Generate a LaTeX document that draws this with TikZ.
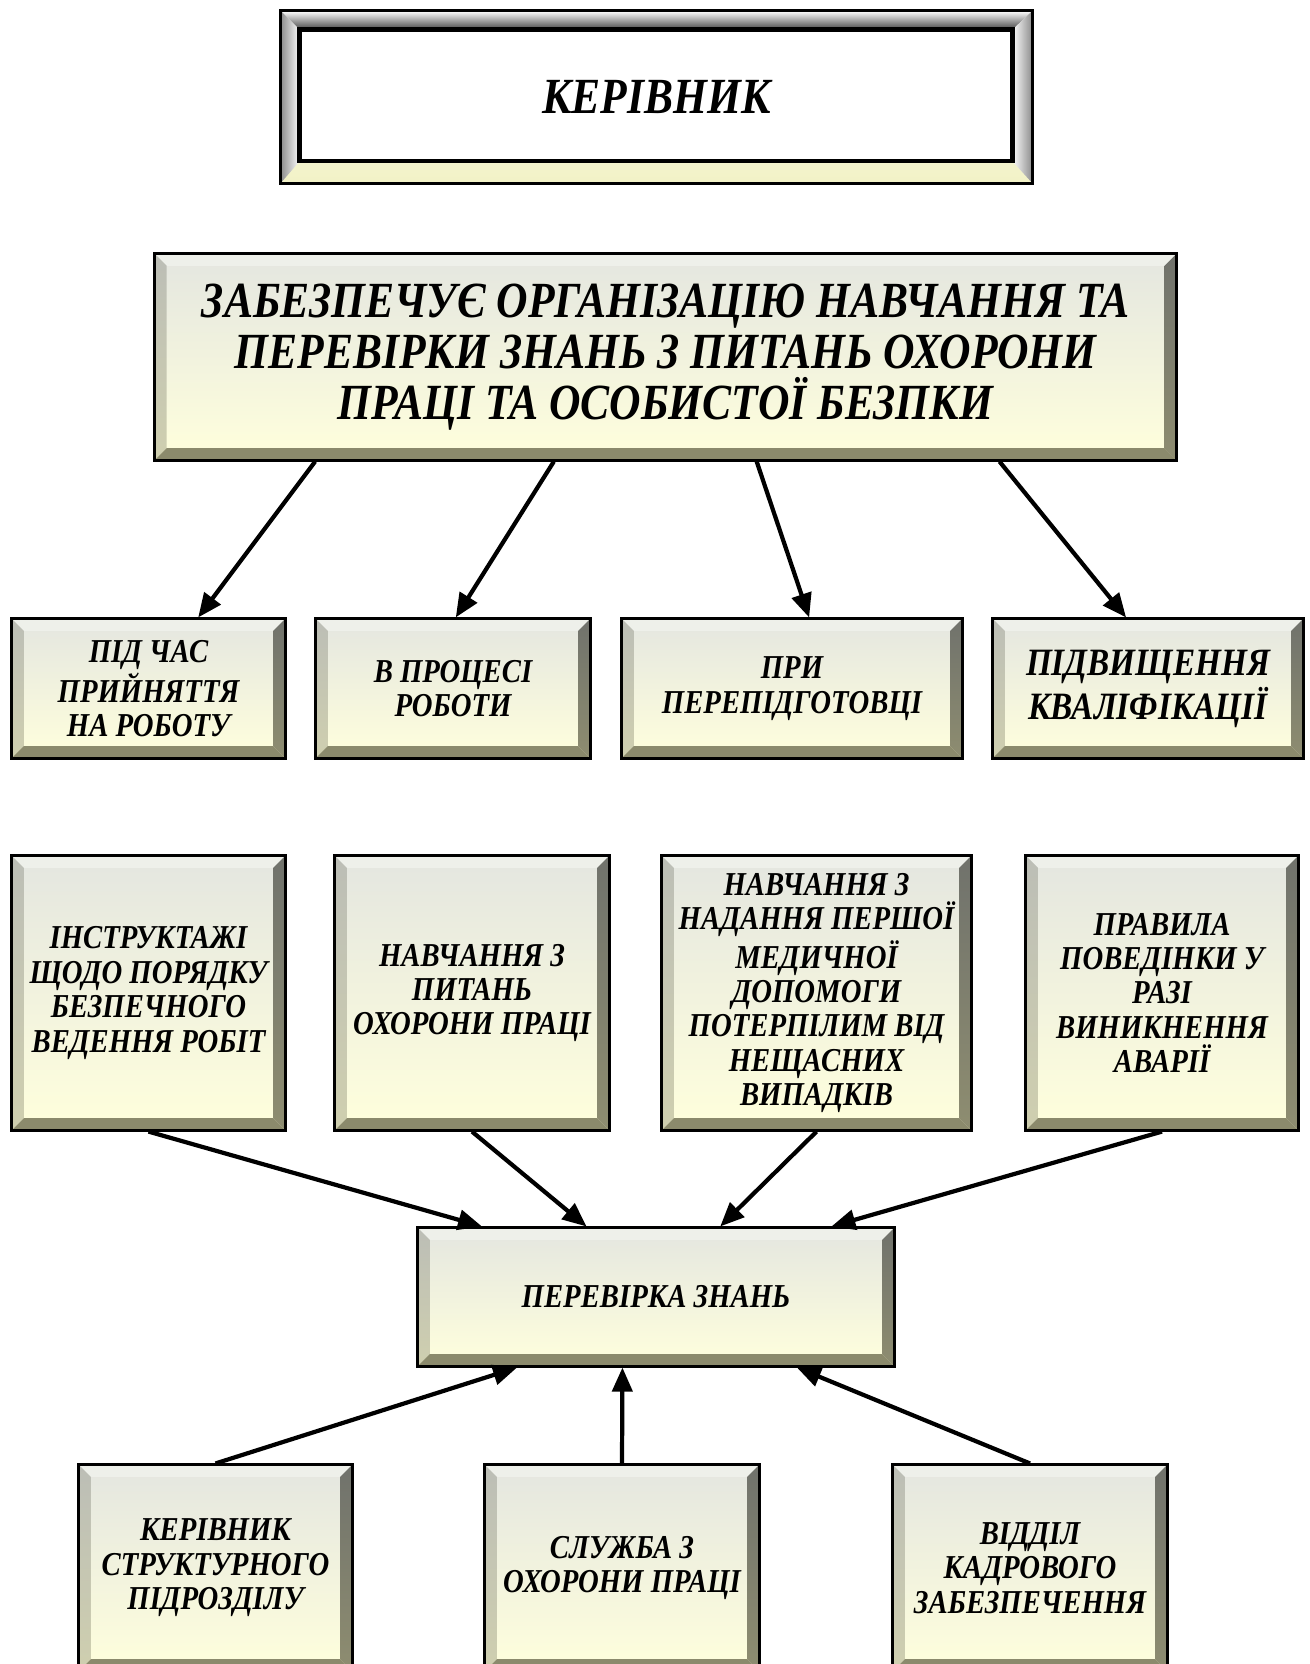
\documentclass[tikz,border=0pt]{standalone}
\usepackage{fontspec}
\setmainfont{Liberation Serif}
\newfontfamily\boxfont{Liberation Serif}[FakeStretch=0.86]
\usetikzlibrary{arrows.meta,calc}
\definecolor{FaceTop}{HTML}{E4E6E0}
\definecolor{FaceLow}{HTML}{FFFFDC}
\definecolor{BevLight}{HTML}{EEF0EA}
\definecolor{BevLeft}{HTML}{BCBEB6}
\definecolor{BevLeftLow}{HTML}{CFCFAF}
\definecolor{BevRight}{HTML}{70726C}
\definecolor{BevRightLow}{HTML}{8E8D70}
\definecolor{BevLow}{HTML}{8B8A6C}
\definecolor{RingTop}{HTML}{9C9C9C}
\definecolor{RingLow}{HTML}{F2F2C6}

\tikzset{
  txt/.style 2 args={font=\boxfont\bfseries\itshape\fontsize{#1}{#2}\selectfont},
  bevelbox/.style={draw=black, line width=0.85pt, inner sep=1pt, align=center,
    txt={9.5}{9.8},
    path picture={
      \coordinate (bnw) at (path picture bounding box.north west);
      \coordinate (bne) at (path picture bounding box.north east);
      \coordinate (bsw) at (path picture bounding box.south west);
      \coordinate (bse) at (path picture bounding box.south east);
      \shade[top color=FaceTop, middle color=FaceTop!45!FaceLow, bottom color=FaceLow]
        (bnw) rectangle (bse);
      \fill[BevLight] (bnw) -- (bne) -- ++(-0.12cm,-0.12cm) -- ($(bnw)+(0.12cm,-0.12cm)$) -- cycle;
      \shade[top color=BevLeft, bottom color=BevLeftLow]
        (bnw) -- ++(0.12cm,-0.12cm) -- ($(bsw)+(0.12cm,0.12cm)$) -- (bsw) -- cycle;
      \shade[top color=BevRight, bottom color=BevRightLow]
        (bne) -- (bse) -- ++(-0.12cm,0.12cm) -- ($(bne)+(-0.12cm,-0.12cm)$) -- cycle;
      \fill[BevLow] (bsw) -- (bse) -- ++(-0.12cm,0.12cm) -- ($(bsw)+(0.12cm,0.12cm)$) -- cycle;
    }},
  ringbox/.style={draw=black, line width=0.85pt, align=center,
    txt={14.4}{16},
    path picture={
      \coordinate (bnw) at (path picture bounding box.north west);
      \coordinate (bne) at (path picture bounding box.north east);
      \coordinate (bsw) at (path picture bounding box.south west);
      \coordinate (bse) at (path picture bounding box.south east);
      \shade[top color=white, bottom color=RingLow] (bnw) rectangle (bse);
      \shade[top color=white, bottom color=black!75]
        (bnw) -- (bne) -- ($(bne)+(-0.2cm,-0.19cm)$) -- ($(bnw)+(0.19cm,-0.19cm)$) -- cycle;
      \shade[left color=black!45, right color=white]
        (bnw) -- ($(bnw)+(0.19cm,-0.19cm)$) -- ($(bsw)+(0.19cm,0.22cm)$) -- (bsw) -- cycle;
      \shade[left color=white, right color=black!45]
        (bne) -- ($(bne)+(-0.2cm,-0.19cm)$) -- ($(bse)+(-0.2cm,0.22cm)$) -- (bse) -- cycle;
      \filldraw[fill=white, draw=black, line width=1.4pt]
        ($(bnw)+(0.19cm,-0.19cm)$) rectangle ($(bse)+(-0.2cm,0.22cm)$);
    }},
  arrowline/.style={-{Triangle[length=0.24cm,width=0.2cm]}, line width=1.2pt}
}

\begin{document}
\begin{tikzpicture}[x=0.01cm,y=-0.01cm]
\useasboundingbox (0,0) rectangle (1309,1664);
\clip (0,0) rectangle (1309,1664);

% head and duty
\node[ringbox, minimum width=7.51cm, minimum height=1.72cm] (boss) at (656.5,97) {КЕРІВНИК};
\node[bevelbox, txt={14.4}{14.5}, minimum width=10.21cm, minimum height=2.06cm] (duty) at (665.5,357)
  {ЗАБЕЗПЕЧУЄ ОРГАНІЗАЦІЮ НАВЧАННЯ ТА\\
   ПЕРЕВІРКИ ЗНАНЬ З ПИТАНЬ ОХОРОНИ\\ ПРАЦІ ТА ОСОБИСТОЇ БЕЗПКИ};

% when
\node[bevelbox, minimum width=2.73cm, minimum height=1.39cm] (hire) at (148.5,688.5)
  {ПІД ЧАС\\ ПРИЙНЯТТЯ\\ НА РОБОТУ};
\node[bevelbox, minimum width=2.74cm, minimum height=1.39cm] (work) at (453,688.5)
  {В ПРОЦЕСІ\\ РОБОТИ};
\node[bevelbox, minimum width=3.40cm, minimum height=1.39cm] (retrain) at (792,688.5)
  {ПРИ\\ ПЕРЕПІДГОТОВЦІ};
\node[bevelbox, txt={11}{11.2}, minimum width=3.10cm, minimum height=1.39cm] (qualif) at (1148,688.5)
  {ПІДВИЩЕННЯ\\ КВАЛІФІКАЦІЇ};

% what
\node[bevelbox, minimum width=2.73cm, minimum height=2.74cm] (brief) at (148.5,993)
  {ІНСТРУКТАЖІ\\ ЩОДО ПОРЯДКУ\\ БЕЗПЕЧНОГО\\ ВЕДЕННЯ РОБІТ};
\node[bevelbox, minimum width=2.74cm, minimum height=2.74cm] (ohs) at (472,993)
  {НАВЧАННЯ З\\ ПИТАНЬ\\ ОХОРОНИ ПРАЦІ};
\node[bevelbox, minimum width=3.09cm, minimum height=2.74cm] (firstaid) at (816.5,993)
  {НАВЧАННЯ З\\ НАДАННЯ ПЕРШОЇ\\ МЕДИЧНОЇ\\ ДОПОМОГИ\\ ПОТЕРПІЛИМ ВІД\\ НЕЩАСНИХ\\ ВИПАДКІВ};
\node[bevelbox, minimum width=2.72cm, minimum height=2.74cm] (accident) at (1162,993)
  {ПРАВИЛА\\ ПОВЕДІНКИ У\\ РАЗІ\\ ВИНИКНЕННЯ\\ АВАРІЇ};

% check
\node[bevelbox, minimum width=4.76cm, minimum height=1.38cm] (check) at (656,1297) {ПЕРЕВІРКА ЗНАНЬ};

% who
\node[bevelbox, minimum width=2.73cm, minimum height=2.06cm] (unithead) at (215.5,1568)
  {КЕРІВНИК\\ СТРУКТУРНОГО\\ ПІДРОЗДІЛУ};
\node[bevelbox, minimum width=2.74cm, minimum height=2.06cm] (ohsservice) at (622,1568)
  {СЛУЖБА З\\ ОХОРОНИ ПРАЦІ};
\node[bevelbox, minimum width=2.74cm, minimum height=2.06cm] (hrdept) at (1030,1568)
  {ВІДДІЛ\\ КАДРОВОГО\\ ЗАБЕЗПЕЧЕННЯ};

% arrows
\draw[arrowline] ($(duty.south west)!0.158!(duty.south east)$) -- ($(hire.north west)!0.68!(hire.north east)$);
\draw[arrowline] ($(duty.south west)!0.391!(duty.south east)$) -- ($(work.north west)!0.51!(work.north east)$);
\draw[arrowline] ($(duty.south west)!0.589!(duty.south east)$) -- ($(retrain.north west)!0.55!(retrain.north east)$);
\draw[arrowline] ($(duty.south west)!0.826!(duty.south east)$) -- ($(qualif.north west)!0.43!(qualif.north east)$);

\draw[arrowline] (brief.south) -- ($(check.north west)!0.137!(check.north east)$);
\draw[arrowline] (ohs.south) -- ($(check.north west)!0.355!(check.north east)$);
\draw[arrowline] (firstaid.south) -- ($(check.north west)!0.634!(check.north east)$);
\draw[arrowline] (accident.south) -- ($(check.north west)!0.866!(check.north east)$);

\draw[arrowline] (unithead.north) -- ($(check.south west)!0.21!(check.south east)$);
\draw[arrowline] (ohsservice.north) -- ($(check.south west)!0.43!(check.south east)$);
\draw[arrowline] (hrdept.north) -- ($(check.south west)!0.794!(check.south east)$);
\end{tikzpicture}
\end{document}
